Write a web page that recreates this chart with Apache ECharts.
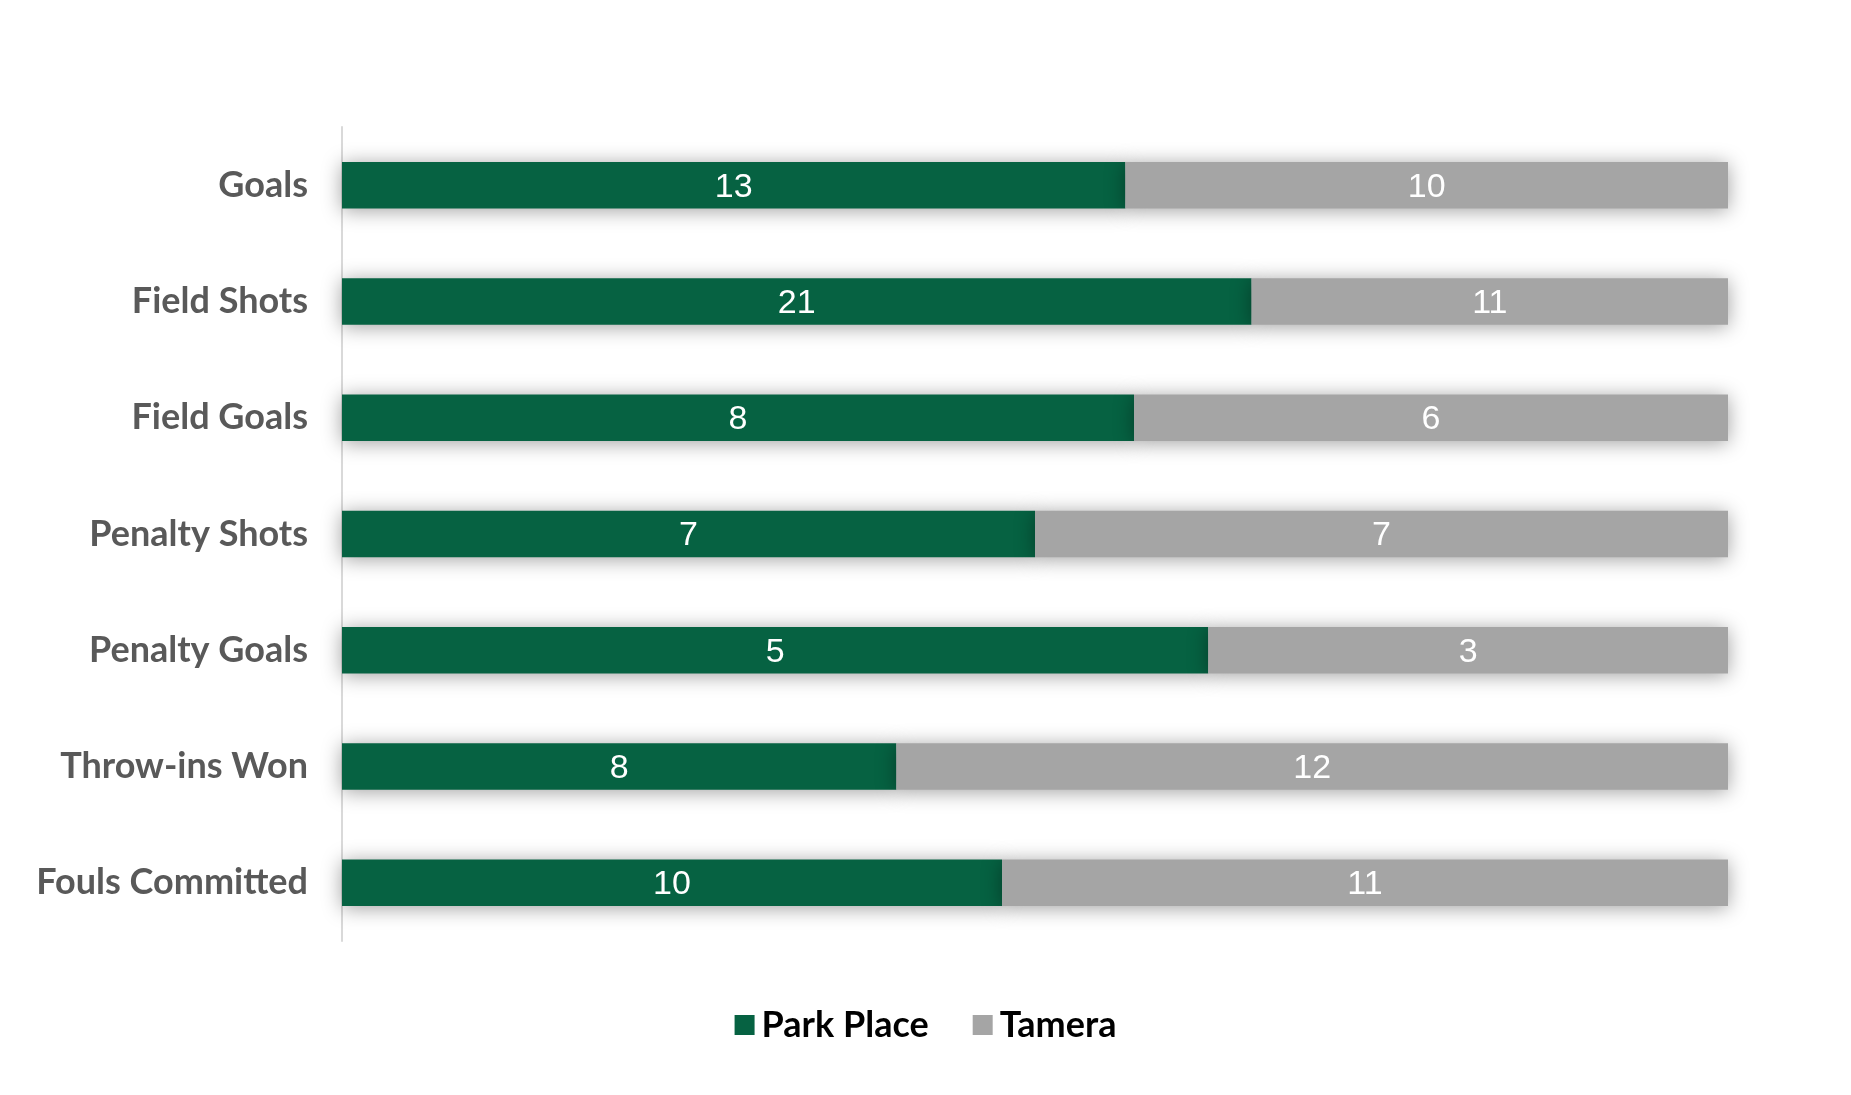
<!DOCTYPE html>
<html>
<head>
<meta charset="utf-8">
<script src="https://cdn.jsdelivr.net/npm/echarts@6/dist/echarts.min.js"></script>
<style>
html,body{margin:0;padding:0;background:#fff;}
#chart{width:1851px;height:1095px;}
</style>
</head>
<body>
<div id="chart"></div>
<script>
const categories = ['Goals','Field Shots','Field Goals','Penalty Shots','Penalty Goals','Throw-ins Won','Fouls Committed'];
const parkPlace = [13,21,8,7,5,8,10];
const tamera = [10,11,6,7,3,12,11];

const totals = categories.map((c,i)=>parkPlace[i]+tamera[i]);
function shares(arr){ return arr.map((v,i)=>({value:v/totals[i], raw:v})); }

const shadow = {shadowBlur:20, shadowColor:'rgba(0,0,0,0.38)', shadowOffsetY:2};
const labelStyle = {show:true, position:'inside', offset:[0,2], color:'#fff', fontFamily:'Liberation Sans, Arial, sans-serif', fontSize:34, formatter:p=>p.data.raw};

const chart = echarts.init(document.getElementById('chart'));
chart.setOption({
  animation:false,
  backgroundColor:'#fff',
  grid:{left:342, right:123, top:127, bottom:154},
  legend:{
    bottom:47, left:'center',
    itemWidth:20, itemHeight:20, itemGap:44,
    icon:'rect',
    textStyle:{fontFamily:'Lato', fontWeight:'bold', fontSize:36, color:'#000', padding:[0,0,0,2]},
    data:['Park Place','Tamera']
  },
  xAxis:{type:'value', min:0, max:1, show:false, splitLine:{show:false}},
  yAxis:{
    type:'category', data:categories, inverse:true,
    axisLine:{show:true, lineStyle:{color:'#D9D9D9', width:2}},
    axisTick:{show:false},
    axisLabel:{fontFamily:'Lato', fontWeight:'bold', fontSize:36, color:'#595959', margin:34}
  },
  series:[
    {name:'Park Place', type:'bar', stack:'s', barCategoryGap:'60%', data:shares(parkPlace),
     itemStyle:Object.assign({color:'#066242'}, shadow), label:labelStyle},
    {name:'Tamera', type:'bar', stack:'s', barCategoryGap:'60%', data:shares(tamera),
     itemStyle:Object.assign({color:'#A5A5A5'}, shadow), label:labelStyle}
  ]
});
</script>
</body>
</html>
